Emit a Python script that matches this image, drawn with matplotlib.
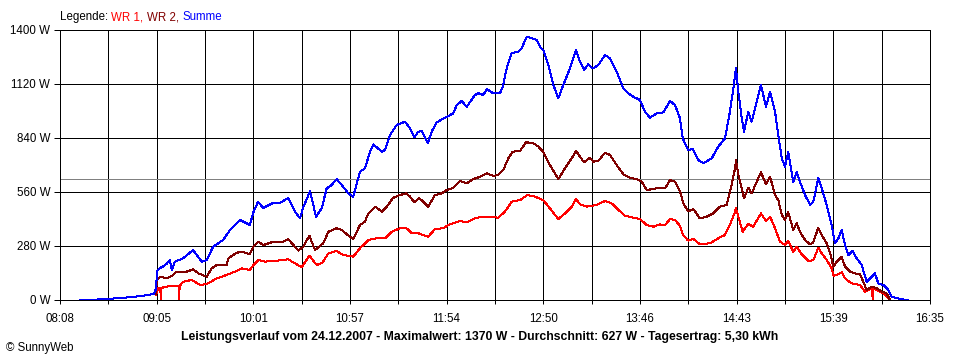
import matplotlib

matplotlib.use("Agg")
import matplotlib.pyplot as plt  # noqa: E402

plt.rcParams["font.family"] = ["Liberation Sans", "DejaVu Sans"]

# x axis: minutes after the first axis mark (08:08)
SPAN_MIN = 507
TIME_LABELS = ["08:08", "09:05", "10:01", "10:57", "11:54",
               "12:50", "13:46", "14:43", "15:39", "16:35"]
Y_TICKS = [0, 280, 560, 840, 1120, 1400]
AVERAGE_W = 627

TITLE = ("Leistungsverlauf vom 24.12.2007 - Maximalwert: 1370 W - "
         "Durchschnitt: 627 W - Tagesertrag: 5,30 kWh")

# WR 1
t_wr1 = [
    56.0, 57.3, 58.5, 58.7, 58.9, 61.2, 66.0, 69.3, 69.5, 69.7,
    71.9, 76.7, 81.6, 85.5, 91.3, 97.1, 102.0, 105.9, 110.7, 112.6,
    115.6, 119.5, 126.3, 133.0, 136.9, 140.9, 145.3, 149.6, 153.0, 156.4,
    161.2, 165.1, 170.9, 174.8, 179.7, 184.6, 189.4, 193.3, 198.1, 201.6,
    205.0, 208.8, 214.6, 218.5, 223.4, 226.3, 233.1, 237.0, 242.8, 248.7,
    255.4, 259.3, 263.2, 268.1, 272.3, 276.8, 281.6, 285.5, 290.4, 294.3,
    298.2, 300.7, 303.0, 306.9, 312.7, 317.6, 321.5, 325.4, 329.3, 334.1,
    338.0, 341.9, 345.8, 349.7, 352.6, 355.5, 358.4, 361.3, 363.2, 366.1,
    369.1, 372.9, 378.8, 383.6, 387.5, 390.4, 393.4, 393.9, 395.3, 397.8,
    401.1, 404.0, 408.5, 411.4, 413.8, 416.7, 419.6, 422.5, 424.4, 427.3,
    429.3, 432.2, 436.1, 439.0, 441.9, 443.9, 446.8, 449.7, 450.7, 452.7,
    455.5, 457.5, 461.3, 466.2, 469.1, 473.0, 473.7, 473.9, 475.9, 479.8,
    482.7, 483.7,
]
wr1 = [
    26, 61, 61, 0, 61, 69, 73, 73, 0, 73,
    95, 104, 78, 83, 112, 130, 147, 164, 156, 181,
    207, 199, 204, 211, 190, 170, 230, 181, 195, 242,
    254, 233, 225, 268, 311, 320, 320, 354, 372, 375,
    346, 346, 328, 368, 372, 389, 410, 403, 427, 432,
    427, 458, 510, 518, 544, 536, 518, 475, 420, 449,
    484, 524, 496, 484, 493, 513, 501, 467, 437, 427,
    420, 389, 380, 392, 389, 420, 415, 385, 335, 308,
    316, 289, 294, 320, 337, 389, 458, 475, 432, 354,
    394, 380, 449, 410, 432, 372, 302, 285, 306, 250,
    276, 237, 202, 207, 271, 242, 207, 164, 126, 130,
    144, 112, 86, 78, 43, 61, 0, 61, 52, 35,
    9, 0,
]

# WR 2
t_wr2 = [
    56.0, 56.4, 58.3, 62.2, 66.0, 68.0, 73.8, 77.7, 80.6, 85.5,
    88.4, 91.3, 97.1, 98.1, 103.0, 105.9, 110.7, 112.6, 115.6, 118.5,
    124.3, 130.1, 133.0, 136.9, 138.9, 141.8, 145.3, 148.6, 153.4, 156.4,
    161.2, 164.2, 168.0, 170.9, 174.8, 177.7, 179.7, 183.6, 187.5, 190.4,
    194.2, 198.1, 201.6, 204.0, 206.3, 209.4, 211.7, 214.6, 218.5, 222.4,
    225.4, 229.2, 233.1, 237.0, 240.9, 244.8, 248.7, 252.5, 255.4, 258.3,
    261.3, 263.8, 268.1, 271.6, 275.8, 278.8, 281.6, 285.5, 290.4, 294.3,
    298.2, 300.7, 303.0, 305.4, 308.9, 310.8, 313.7, 317.6, 320.5, 324.4,
    328.3, 332.2, 336.1, 339.0, 341.9, 345.8, 349.7, 352.6, 355.5, 358.4,
    361.3, 363.2, 366.1, 369.1, 372.9, 376.8, 380.7, 384.6, 388.5, 391.4,
    393.4, 393.9, 395.3, 397.3, 398.6, 401.1, 403.1, 406.0, 408.5, 411.4,
    413.8, 416.7, 418.6, 420.6, 422.5, 424.4, 427.3, 429.3, 431.2, 434.2,
    437.1, 439.0, 441.9, 443.9, 446.8, 448.8, 450.7, 452.7, 455.5, 457.5,
    460.4, 463.3, 466.2, 468.1, 470.1, 473.0, 475.9, 478.8, 481.7, 483.7,
]
wr2 = [
    30, 104, 121, 112, 130, 147, 147, 159, 138, 121,
    164, 181, 181, 216, 245, 250, 238, 276, 302, 285,
    302, 302, 315, 276, 256, 276, 334, 259, 294, 354,
    372, 363, 334, 316, 389, 406, 449, 484, 458, 484,
    530, 544, 553, 536, 507, 527, 510, 484, 544, 553,
    570, 582, 617, 605, 627, 639, 657, 644, 648, 674,
    735, 769, 773, 818, 813, 795, 769, 700, 627, 683,
    735, 773, 743, 714, 738, 717, 721, 764, 752, 700,
    652, 634, 627, 613, 570, 576, 582, 579, 622, 613,
    565, 501, 460, 472, 423, 432, 449, 484, 493, 596,
    683, 726, 648, 579, 527, 582, 553, 613, 662, 600,
    639, 544, 518, 441, 415, 455, 363, 398, 354, 311,
    289, 299, 375, 337, 294, 242, 173, 199, 225, 173,
    147, 138, 133, 95, 52, 69, 61, 43, 35, 0,
]

# Summe
t_sum = [
    11.7, 23.3, 35.0, 43.7, 50.7, 54.8, 56.0, 56.5, 58.3, 60.0,
    61.8, 64.1, 65.1, 67.0, 71.7, 77.5, 82.6, 85.5, 89.2, 95.0,
    99.1, 104.9, 110.7, 112.5, 115.4, 118.3, 124.1, 128.2, 132.9, 136.9,
    139.9, 141.6, 145.7, 149.2, 152.5, 155.4, 158.3, 161.2, 164.2, 168.0,
    170.9, 174.8, 177.7, 180.7, 182.6, 187.5, 189.4, 192.3, 196.2, 201.1,
    204.0, 206.5, 208.8, 210.8, 214.3, 216.6, 219.5, 225.4, 229.2, 231.2,
    234.1, 237.0, 241.8, 243.8, 246.7, 248.7, 252.5, 256.4, 258.0, 260.3,
    263.2, 267.1, 269.0, 272.0, 274.9, 277.8, 279.7, 281.6, 284.6, 287.5,
    290.4, 293.3, 297.2, 300.7, 303.0, 305.4, 307.9, 310.4, 313.7, 317.6,
    320.5, 324.4, 328.3, 331.2, 334.1, 338.0, 340.9, 343.8, 347.7, 351.6,
    355.5, 358.4, 361.3, 362.9, 366.1, 368.7, 372.0, 374.9, 379.8, 383.6,
    387.5, 390.4, 392.4, 393.9, 395.3, 397.3, 398.6, 401.1, 403.1, 406.0,
    408.5, 411.4, 413.8, 416.7, 418.6, 420.6, 422.5, 424.4, 427.3, 429.3,
    431.2, 434.2, 437.1, 439.0, 441.9, 443.9, 446.8, 449.7, 451.6, 453.6,
    455.5, 457.5, 459.4, 461.9, 464.3, 467.2, 470.1, 473.0, 474.9, 476.9,
    479.8, 482.7, 484.7, 489.5, 494.3,
]
summe = [
    0, 3, 10, 17, 25, 32, 60, 150, 166, 173,
    185, 207, 155, 199, 216, 259, 199, 207, 276, 311,
    363, 415, 389, 451, 510, 477, 503, 503, 529, 458,
    423, 477, 565, 432, 475, 579, 596, 627, 596, 553,
    536, 665, 683, 769, 807, 769, 778, 856, 907, 925,
    890, 844, 873, 876, 813, 873, 921, 950, 968, 1011,
    1032, 1002, 1063, 1072, 1063, 1094, 1072, 1072, 1106, 1201,
    1279, 1288, 1305, 1365, 1357, 1348, 1313, 1296, 1218, 1115,
    1046, 1115, 1201, 1296, 1236, 1193, 1222, 1201, 1218, 1270,
    1253, 1184, 1098, 1072, 1054, 1037, 976, 945, 968, 973,
    1032, 1011, 942, 838, 778, 783, 726, 709, 735, 795,
    838, 976, 1098, 1201, 1080, 942, 873, 976, 925, 1028,
    1115, 1002, 1080, 976, 856, 735, 691, 769, 613, 665,
    613, 544, 493, 510, 631, 579, 493, 389, 294, 320,
    363, 285, 233, 254, 216, 181, 95, 121, 138, 86,
    78, 52, 17, 5, 0,
]

C_WR1 = "#ff0000"
C_WR2 = "#800000"
C_SUM = "#0000ff"
PX = 0.72  # one pixel at 100 dpi, in points

fig = plt.figure(figsize=(9.6, 3.6), dpi=100)
ax = fig.add_axes([60 / 960, 60 / 360, 870 / 960, 270 / 360])

# 19 vertical grid lines, every second one labelled
n_div = 2 * (len(TIME_LABELS) - 1)
xticks = [SPAN_MIN * i / n_div for i in range(n_div + 1)]
xlabels = [TIME_LABELS[i // 2] if i % 2 == 0 else "" for i in range(n_div + 1)]
ax.set_xticks(xticks)
ax.set_xticklabels(xlabels)
ax.set_yticks(Y_TICKS)
ax.set_yticklabels([f"{v} W" for v in Y_TICKS])
ax.set_xlim(0, SPAN_MIN)
ax.set_ylim(0, Y_TICKS[-1])

ax.grid(True, color="black", lw=PX, antialiased=False)
ax.set_axisbelow(True)
for sp in ax.spines.values():
    sp.set_color("black")
    sp.set_linewidth(PX)
    sp.set_antialiased(False)
ax.tick_params(axis="both", direction="out", color="black", width=PX,
               labelsize=8.3, labelcolor="black")
ax.tick_params(axis="y", length=4, pad=3)
ax.tick_params(axis="x", length=3, pad=6)

ax.axhline(AVERAGE_W, color="#808080", lw=PX, antialiased=False, zorder=1.5)

ax.plot(t_wr1, wr1, color=C_WR1, lw=PX, antialiased=False, zorder=2)
ax.plot(t_wr2, wr2, color=C_WR2, lw=PX, antialiased=False, zorder=3)
ax.plot(t_sum, summe, color=C_SUM, lw=PX, antialiased=False, zorder=4)

# legend line above the plot, coloured pieces side by side
renderer = fig.canvas.get_renderer()
x = 60 / 960
for text, color in [("Legende: ", "black"), ("WR 1, ", C_WR1),
                    ("WR 2, ", C_WR2), ("Summe", C_SUM)]:
    t = fig.text(x, 1 - 17 / 360, text, color=color, fontsize=8.3, va="center")
    bb = t.get_window_extent(renderer)
    x += bb.width / fig.bbox.width

fig.text(0.5, 1 - 337 / 360, TITLE, ha="center", va="center",
         fontsize=8.8, fontweight="bold")
fig.text(6 / 960, 1 - 348 / 360, "\u00a9 SunnyWeb", fontsize=8.3, va="center")

fig.savefig("out.png", dpi=100, facecolor="white")
